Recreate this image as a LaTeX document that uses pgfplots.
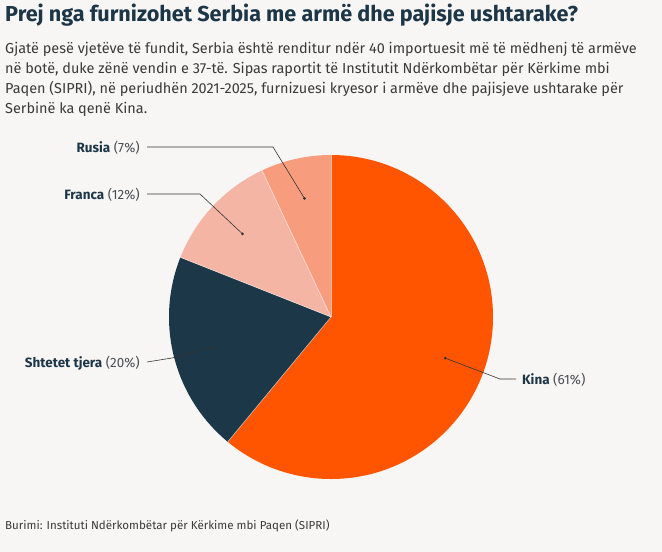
\documentclass[border=0pt]{standalone}
\usepackage{pgfplots}
\pgfplotsset{compat=1.18}
\usepackage{pgfplotstable}
\usepackage{fontspec}
\setmainfont{Fira Sans}

\definecolor{bg}{HTML}{F7F6F5}
\definecolor{navy}{HTML}{1C3647}
\definecolor{body}{HTML}{3A3A3A}
\definecolor{pct}{HTML}{4A4F55}
\definecolor{slice0}{HTML}{FF5500}
\definecolor{slice1}{HTML}{1B3748}
\definecolor{slice2}{HTML}{F4B5A4}
\definecolor{slice3}{HTML}{F79D7E}

% shares of arms imports by supplier, clockwise from the top
\pgfplotstableread{
label   share
Kina    61
Tjera   20
Franca  12
Rusia   7
}\shares

\begin{document}
\begin{tikzpicture}
\fill[bg] (0,0) rectangle (662bp,-552bp);

\node[anchor=base west, inner sep=0, text=navy,
      font=\bfseries\fontsize{21.7}{26}\selectfont] at (5bp,-21bp)
  {Prej nga furnizohet Serbia me armë dhe pajisje ushtarake?};

\begin{scope}[every node/.style={anchor=base west, inner sep=0, text=body,
      font=\fontsize{14.5}{18}\selectfont}]
\node at (5bp,-53bp) {Gjatë pesë vjetëve të fundit, Serbia është renditur ndër 40 importuesit më të mëdhenj të armëve};
\node at (5bp,-73bp) {në botë, duke zënë vendin e 37-të. Sipas raportit të Institutit Ndërkombëtar për Kërkime mbi};
\node at (5bp,-93bp) {Paqen (SIPRI), në periudhën 2021-2025, furnizuesi kryesor i armëve dhe pajisjeve ushtarake për};
\node at (5bp,-113bp) {Serbinë ka qenë Kina.};
\end{scope}

\begin{axis}[
  at={(331bp,-317bp)}, anchor=center,
  scale only axis, width=324bp, height=324bp,
  xmin=-1, xmax=1, ymin=-1, ymax=1,
  hide axis, clip=false]
\def\cum{0}
\pgfplotsforeachungrouped \i in {0,...,3}{%
  \pgfplotstablegetelem{\i}{share}\of\shares
  \let\v\pgfplotsretval
  \pgfmathsetmacro\a{90-3.6*\cum}%
  \pgfmathsetmacro\b{90-3.6*(\cum+\v)}%
  \pgfmathsetmacro\m{(\a+\b)/2}%
  \pgfmathsetmacro\ax{cos(\a)}%
  \pgfmathsetmacro\ay{sin(\a)}%
  \pgfmathsetmacro\dx{0.75*cos(\m)}%
  \pgfmathsetmacro\dy{0.75*sin(\m)}%
  \edef\temp{\noexpand\fill[slice\i] (axis cs:0,0) -- (axis cs:\ax,\ay)
     arc[start angle=\a, end angle=\b, radius=162bp] -- cycle;
     \noexpand\coordinate (dot\i) at (axis cs:\dx,\dy);}%
  \temp
  \pgfmathsetmacro\cum{\cum+\v}%
}
% thin light separators between the wedges
\def\cum{0}
\pgfplotsforeachungrouped \i in {0,...,3}{%
  \pgfplotstablegetelem{\i}{share}\of\shares
  \let\v\pgfplotsretval
  \pgfmathsetmacro\a{90-3.6*\cum}%
  \pgfmathsetmacro\ax{cos(\a)}%
  \pgfmathsetmacro\ay{sin(\a)}%
  \edef\temp{\noexpand\draw[white, opacity=0.6, line width=0.6pt] (axis cs:0,0) -- (axis cs:\ax,\ay);}%
  \temp
  \pgfmathsetmacro\cum{\cum+\v}%
}
\end{axis}

% leader lines
\begin{scope}[draw=black!80, line width=0.6pt]
\draw (516bp,-379bp) -- (500bp,-379bp) -- (dot0);
\draw (147bp,-362bp) -- (172bp,-358bp) -- (dot1);
\draw (147bp,-194bp) -- (200bp,-194bp) -- (dot2);
\draw (147bp,-147bp) -- (273bp,-147bp) -- (dot3);
\end{scope}
\foreach \k in {0,...,3} \fill[black!80] (dot\k) circle (1.5bp);

\begin{scope}[every node/.style={inner sep=0, font=\fontsize{13.5}{16}\selectfont}]
\node[anchor=base east] at (140bp,-152bp) {\textcolor{navy}{\bfseries Rusia} \textcolor{pct}{(7\%)}};
\node[anchor=base east] at (140bp,-199bp) {\textcolor{navy}{\bfseries Franca} \textcolor{pct}{(12\%)}};
\node[anchor=base east] at (140bp,-367bp) {\textcolor{navy}{\bfseries Shtetet tjera} \textcolor{pct}{(20\%)}};
\node[anchor=base west] at (522bp,-384bp) {\textcolor{navy}{\bfseries Kina} \textcolor{pct}{(61\%)}};
\end{scope}

\node[anchor=base west, inner sep=0, text=body, font=\fontsize{11.6}{15}\selectfont]
  at (5bp,-529bp) {Burimi: Instituti Ndërkombëtar për Kërkime mbi Paqen (SIPRI)};
\end{tikzpicture}
\end{document}
